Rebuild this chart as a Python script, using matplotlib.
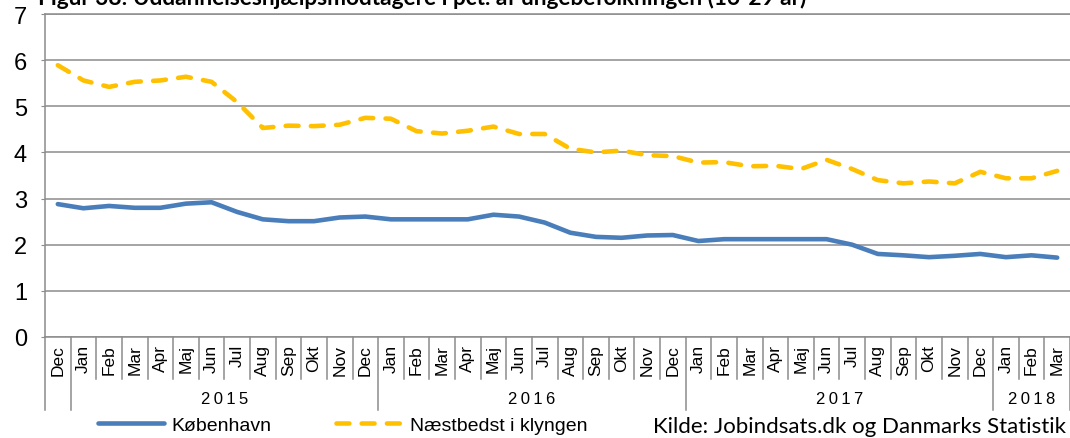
import matplotlib
matplotlib.use("Agg")
import numpy as np
from matplotlib import pyplot as plt
from matplotlib.lines import Line2D
from matplotlib.transforms import blended_transform_factory

plt.rcParams['font.family'] = ['Liberation Sans', 'DejaVu Sans']

# Data: monthly shares (pct.) from Dec 2014 to Mar 2018
months = ["Dec",
          "Jan", "Feb", "Mar", "Apr", "Maj", "Jun", "Jul", "Aug", "Sep", "Okt", "Nov", "Dec",
          "Jan", "Feb", "Mar", "Apr", "Maj", "Jun", "Jul", "Aug", "Sep", "Okt", "Nov", "Dec",
          "Jan", "Feb", "Mar", "Apr", "Maj", "Jun", "Jul", "Aug", "Sep", "Okt", "Nov", "Dec",
          "Jan", "Feb", "Mar"]
years = ["2015", "2016", "2017", "2018"]
year_lengths = [12, 12, 12, 3]

koebenhavn = [2.88, 2.79, 2.84, 2.80, 2.80, 2.89, 2.92, 2.71, 2.55, 2.51,
              2.51, 2.59, 2.61, 2.55, 2.55, 2.55, 2.55, 2.65, 2.61, 2.48,
              2.26, 2.17, 2.15, 2.20, 2.21, 2.08, 2.12, 2.12, 2.12, 2.12,
              2.12, 2.00, 1.80, 1.77, 1.73, 1.76, 1.80, 1.73, 1.77, 1.72]
naestbedst = [5.89, 5.56, 5.42, 5.53, 5.56, 5.64, 5.53, 5.09, 4.53, 4.58,
              4.57, 4.60, 4.75, 4.73, 4.46, 4.41, 4.47, 4.56, 4.40, 4.40,
              4.08, 4.00, 4.04, 3.94, 3.92, 3.78, 3.79, 3.70, 3.71, 3.64,
              3.84, 3.64, 3.40, 3.33, 3.37, 3.33, 3.58, 3.44, 3.44, 3.60]

blue = "#4A7EBB"
yellow = "#FFC000"
grid_col = "#8C8C8C"

fig = plt.figure(figsize=(10.70, 4.39), dpi=100)
ax = fig.add_axes([45 / 1070, 101 / 439, 1025 / 1070, 323 / 439])

x = np.arange(len(months))
ax.plot(x, koebenhavn, color=blue, lw=3.3, solid_capstyle='round',
        solid_joinstyle='round', label="København", zorder=3)
ax.plot(x, naestbedst, color=yellow, lw=3.3, dashes=(2.8, 2.7),
        dash_capstyle='round', dash_joinstyle='round',
        label="Næstbedst i klyngen", zorder=3)

ax.set_xlim(-0.5, len(months) - 0.5)
ax.set_ylim(0, 7)
ax.set_yticks(range(0, 8))
ax.tick_params(axis='y', labelsize=17, length=3, color=grid_col, pad=10)
ax.yaxis.grid(True, color=grid_col, lw=1.1)
ax.set_axisbelow(True)
ax.set_xticks([])
ax.spines["right"].set_visible(False)
for side in ["left", "bottom", "top"]:
    ax.spines[side].set_color(grid_col)
    ax.spines[side].set_linewidth(1.1)

# category axis: month labels and separators
trans = blended_transform_factory(ax.transData, ax.transAxes)
for i, m in enumerate(months):
    ax.text(i, -0.022, m, rotation=90, ha='center', va='top', fontsize=12.5,
            transform=trans, clip_on=False)
year_starts = np.cumsum([1] + year_lengths[:-1])
year_bounds = set(year_starts.tolist() + [0, len(months)])
for b in range(len(months) + 1):
    low = -0.225 if b in year_bounds else -0.13
    ax.add_line(Line2D([b - 0.5, b - 0.5], [0, low], color=grid_col, lw=1.1,
                       transform=trans, clip_on=False))
for start, n, yr in zip(year_starts, year_lengths, years):
    ax.text(start + (n - 1) / 2, -0.19, "\u2009".join(yr), ha='center', va='center',
            fontsize=12, transform=trans, clip_on=False)

# legend
fig.legend(loc='center left', bbox_to_anchor=(90 / 1070, 13 / 439), ncol=2,
           frameon=False, fontsize=14, handlelength=3.4, handletextpad=0.4,
           columnspacing=3.3, borderaxespad=0)

fig.text(1066 / 1070, 12 / 439, "Kilde: Jobindsats.dk og Danmarks Statistik",
         ha='right', va='center', fontsize=16, family=['Lato', 'DejaVu Sans'])

# title, partly cut off at the top edge as in the source figure
fig.text(38 / 1070, 1 - 5 / 439,
         "Figur 38: Uddannelseshjælpsmodtagere i pct. af ungebefolkningen (16-29 år)",
         ha='left', va='baseline', fontsize=16.3, fontweight='bold',
         family=['Lato', 'DejaVu Sans'])

fig.savefig("out.png", dpi=100)
